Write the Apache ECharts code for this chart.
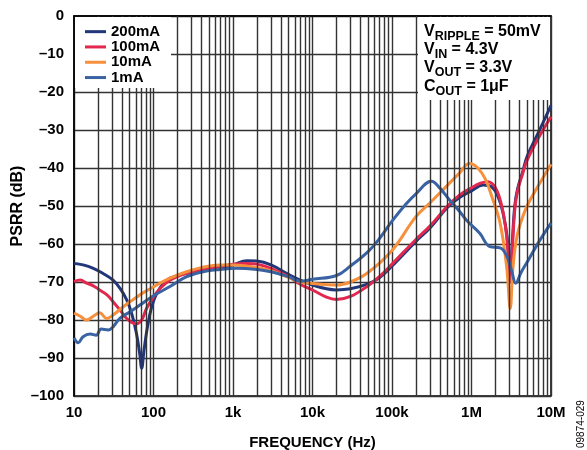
<!DOCTYPE html>
<html>
<head>
<meta charset="utf-8">
<script src="https://cdn.jsdelivr.net/npm/echarts@6/dist/echarts.min.js"></script>
<style>
html,body{margin:0;padding:0;background:#fff;}
#chart{width:587px;height:450px;}
</style>
</head>
<body>
<div id="chart"></div>
<script>
// ---- data ----
const seriesNames = ['200mA', '100mA', '10mA', '1mA'];
const tickValues = [10, 100, 1000, 10000, 100000, 1000000, 10000000];
const tickLabels = ['10', '100', '1k', '10k', '100k', '1M', '10M'];

const freq200 = [10, 13, 17.5, 23, 31, 38, 46, 53, 61, 67, 71, 76, 84, 95, 110, 133, 161, 260, 420, 680, 1000, 1500, 2000, 3000, 5000, 7000, 10000, 15000, 20000, 30000, 50000, 70000, 100000, 200000, 300000, 500000, 700000, 1000000, 1400000, 1800000, 2200000, 2500000, 2800000, 3070000, 3250000, 3500000, 3800000, 4400000, 5000000, 7000000, 10000000];
const psrr200 = [-65.1, -65.5, -66.4, -67.7, -69.5, -71.7, -74.7, -78.2, -83.5, -88.8, -92.7, -87.9, -81.8, -76.5, -73, -70.4, -69, -67.7, -67, -66.4, -65.5, -64.4, -64.5, -65.5, -68, -69.5, -70.8, -71.8, -72.1, -71.8, -70.5, -68.8, -65.8, -59.3, -55.8, -50.3, -47.8, -46, -44.5, -45, -48, -52, -58, -68, -60, -50, -45.5, -41, -37, -30.5, -23.5];

const freq100 = [10, 12, 14.4, 17.5, 21, 26, 31, 38, 46, 56, 61, 71, 82, 100, 121, 161, 260, 420, 680, 1000, 1500, 2000, 3000, 5000, 7000, 10000, 15000, 20000, 30000, 50000, 70000, 100000, 200000, 300000, 500000, 700000, 1000000, 1300000, 1600000, 2000000, 2400000, 2700000, 2900000, 3070000, 3250000, 3500000, 3800000, 4400000, 5000000, 7000000, 10000000];
const psrr100 = [-69.9, -69.5, -70.3, -71, -72.1, -73.4, -75.2, -77.4, -79.6, -80.9, -81, -80, -76.9, -73.9, -71.7, -69.5, -67.7, -66.8, -66, -65.3, -65.1, -65.3, -66.4, -68.6, -70.6, -72.1, -74, -74.6, -73.8, -71, -68.5, -65.3, -58.8, -55.3, -50, -47.2, -45.2, -44, -43.6, -45.2, -50, -56, -63, -70, -62, -51, -46, -41.5, -38, -32, -26.5];

const freq10 = [10, 12, 14.4, 17.5, 21, 25.8, 31, 41.7, 55.8, 74.6, 110, 161, 261, 420, 680, 1000, 2000, 3000, 5000, 7000, 10000, 20000, 30000, 50000, 100000, 200000, 300000, 500000, 700000, 940000, 1200000, 1500000, 1800000, 2200000, 2500000, 2800000, 3070000, 3300000, 3600000, 4000000, 5000000, 7000000, 10000000];
const psrr10 = [-78.2, -79, -80, -79, -78.1, -79.6, -78.7, -76.5, -74.6, -72.8, -70.8, -69, -67.3, -66.1, -65.5, -65.5, -66.2, -67, -68.8, -70, -70.4, -70.8, -70, -67.5, -61.7, -52.8, -49.2, -44.5, -41.4, -38.8, -40, -43, -47.5, -53, -59, -67, -77, -67, -59.8, -55.5, -50, -44.5, -39];

const freq1 = [10, 11.3, 13, 16, 19, 22, 27, 31, 38, 51, 68, 100, 161, 261, 420, 680, 1100, 2000, 3000, 5000, 7000, 10000, 20000, 30000, 50000, 70000, 100000, 150000, 200000, 314000, 400000, 530000, 700000, 860000, 1270000, 1700000, 2300000, 2800000, 3200000, 3600000, 4200000, 5200000, 7000000, 10000000];
const psrr1 = [-84.7, -86, -84.4, -83.7, -84, -82.4, -82.6, -81.8, -79.5, -77.8, -76, -73.6, -71.2, -68.6, -67.3, -66.7, -66.4, -66.7, -67.3, -68.6, -69.8, -69.3, -68.3, -65.8, -62, -58.5, -54, -49.5, -46.8, -43.5, -45.3, -48.4, -51.3, -53.7, -57.2, -60.7, -61, -63.3, -67, -70.3, -67.5, -64.2, -59.5, -54.5];

const seriesColors = ['#22367a', '#e2284f', '#f7903c', '#3a63a3'];
const seriesFreqs = [freq200, freq100, freq10, freq1];
const seriesVals = [psrr200, psrr100, psrr10, psrr1];

// minor grid positions (2..9 of each decade)
const minorMultipliers = [2, 3, 4, 5, 6, 7, 8, 9];
const decades = [10, 100, 1000, 10000, 100000, 1000000];

const FONT = "'Liberation Sans', Arial, sans-serif";
const GRID_COLOR = '#333333';
const GRID_WIDTH = 1.4;

function pairs(fs, vs) { return fs.map((f, i) => [f, vs[i]]); }

const minorLines = [];
decades.forEach(d => minorMultipliers.forEach(m => minorLines.push({ xAxis: d * m })));

const series = seriesNames.map((name, i) => ({
  name: name,
  type: 'line',
  data: pairs(seriesFreqs[i], seriesVals[i]),
  symbol: 'none',
  showSymbol: false,
  smooth: 0.4,
  lineStyle: { color: seriesColors[i], width: 3 },
  itemStyle: { color: seriesColors[i] },
  z: 3,
  animation: false
}));

series.unshift({
  name: 'minorGrid',
  type: 'line',
  data: [],
  silent: true,
  z: 1,
  animation: false,
  markLine: {
    silent: true,
    symbol: 'none',
    animation: false,
    label: { show: false },
    lineStyle: { color: GRID_COLOR, width: GRID_WIDTH, type: 'solid' },
    emphasis: { disabled: true },
    data: minorLines
  }
});

const chart = echarts.init(document.getElementById('chart'), null, { renderer: 'canvas' });

function annot(main, sub, rest, y) {
  return {
    type: 'text',
    x: 424, y: y,
    z: 102,
    style: {
      text: '{m|' + main + '}{s|' + sub + '}{m|' + rest + '}',
      verticalAlign: 'bottom',
      rich: {
        m: { fontFamily: FONT, fontSize: 16, fontWeight: 'bold', fill: '#000', color: '#000', padding: [0, 0, 3, 0], verticalAlign: 'bottom' },
        s: { fontFamily: FONT, fontSize: 12.5, fontWeight: 'bold', fill: '#000', color: '#000', verticalAlign: 'bottom' }
      }
    }
  };
}

chart.setOption({
  animation: false,
  backgroundColor: '#fff',
  grid: { left: 74, right: 36, top: 16, bottom: 54, containLabel: false, outerBoundsMode: 'none', show: true, borderColor: '#000', borderWidth: 1.5, backgroundColor: 'transparent' },
  legend: {
    data: seriesNames,
    orient: 'vertical',
    left: 85, top: 24,
    padding: 0,
    itemGap: 0,
    itemWidth: 21, itemHeight: 3,
    icon: 'rect',
    selectedMode: false,
    z: 200,
    textStyle: { fontFamily: FONT, fontSize: 15, fontWeight: 'bold', color: '#000', lineHeight: 15.3 }
  },
  xAxis: {
    type: 'log', logBase: 10, min: 10, max: 10000000,
    name: 'FREQUENCY (Hz)', nameLocation: 'middle', nameGap: 39,
    nameTextStyle: { fontFamily: FONT, fontSize: 15, fontWeight: 'bold', color: '#000' },
    axisLine: { show: true, lineStyle: { color: '#000', width: 1.5 } },
    axisTick: { show: false },
    axisLabel: {
      fontFamily: FONT, fontSize: 15, fontWeight: 'bold', color: '#000', margin: 9,
      showMinLabel: true, showMaxLabel: true,
      formatter: function (v) {
        const i = tickValues.findIndex(t => Math.abs(Math.log10(t) - Math.log10(v)) < 1e-6);
        return i >= 0 ? tickLabels[i] : '';
      }
    },
    splitLine: { show: true, lineStyle: { color: GRID_COLOR, width: GRID_WIDTH } },
    minorTick: { show: false },
    minorSplitLine: { show: false }
  },
  yAxis: {
    type: 'value', min: -100, max: 0, interval: 10,
    name: 'PSRR (dB)', nameLocation: 'middle', nameGap: 48, nameRotate: 90,
    nameMoveOverlap: false,
    nameTextStyle: { fontFamily: FONT, fontSize: 16, fontWeight: 'bold', color: '#000' },
    axisLine: { show: true, lineStyle: { color: '#000', width: 1.5 } },
    axisTick: { show: false },
    axisLabel: {
      fontFamily: FONT, fontSize: 15, fontWeight: 'bold', color: '#000', margin: 10,
      formatter: function (v) { return v === 0 ? '0' : '\u2013' + (-v); }
    },
    splitLine: { show: true, lineStyle: { color: GRID_COLOR, width: GRID_WIDTH } }
  },
  graphic: [
    { type: 'rect', z: 100, shape: { x: 75, y: 17, width: 96, height: 71 }, style: { fill: '#fff' } },
    { type: 'rect', z: 100, shape: { x: 418, y: 17, width: 132, height: 83 }, style: { fill: '#fff' } },
    annot('V', 'RIPPLE', ' = 50mV', 43),
    annot('V', 'IN', ' = 4.3V', 61),
    annot('V', 'OUT', ' = 3.3V', 79),
    annot('C', 'OUT', ' = 1\u03bcF', 98),
    {
      type: 'text', x: 581, y: 448, rotation: Math.PI / 2, z: 102,
      style: { text: '09874-029', fontFamily: FONT, fontSize: 10, fill: '#000', textAlign: 'left', verticalAlign: 'middle' }
    }
  ],
  series: series
});
</script>
</body>
</html>
